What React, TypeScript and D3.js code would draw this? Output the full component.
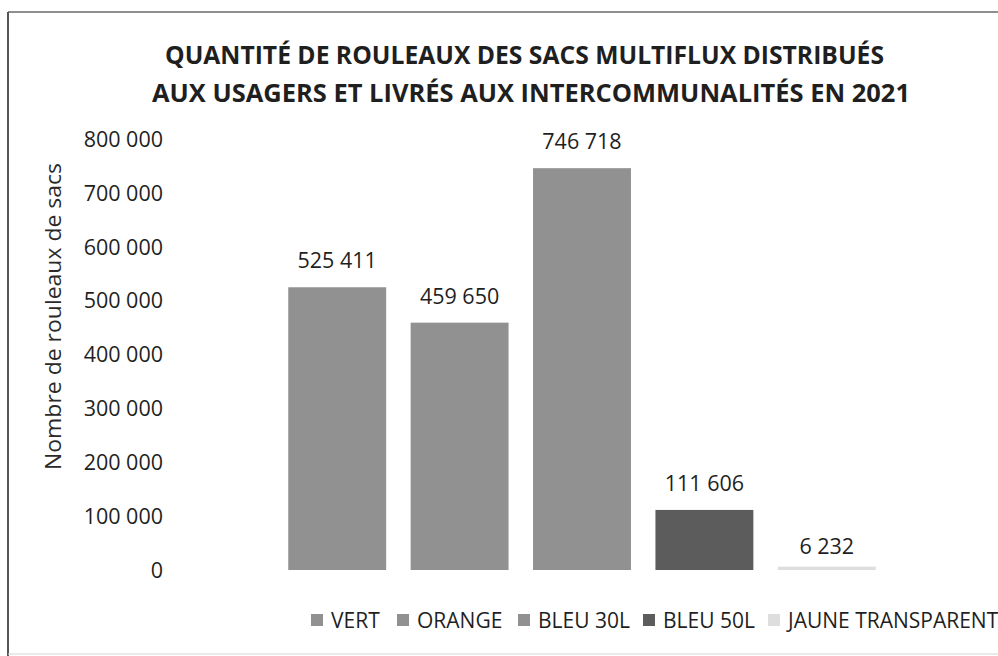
import React from "react";
import * as d3 from "d3";

const categories = ["VERT", "ORANGE", "BLEU 30L", "BLEU 50L", "JAUNE TRANSPARENT"];
const values = [525411, 459650, 746718, 111606, 6232];
const colors = ["#919191", "#919191", "#919191", "#5c5c5c", "#dedede"];
const yTicks = [0, 100000, 200000, 300000, 400000, 500000, 600000, 700000, 800000];
const titleLines = [
  "QUANTITÉ DE ROULEAUX DES SACS MULTIFLUX DISTRIBUÉS",
  "AUX USAGERS ET LIVRÉS AUX INTERCOMMUNALITÉS EN 2021",
];
const yTitle = "Nombre de rouleaux de sacs";

const W = 998;
const H = 656;
const FONT = "'Open Sans', 'Noto Sans', sans-serif";

const fmt = (v: number) => d3.format(",")(v).replace(/,/g, " ");

export default function App() {
  const y = d3.scaleLinear().domain([0, 800000]).range([570, 139.5]);
  const x = d3
    .scaleBand<string>()
    .domain(categories)
    .range([276, 888])
    .paddingInner(0.2)
    .paddingOuter(0.1);

  const legendX = [311, 397, 518, 643, 768];

  return (
    <svg
      width={W}
      height={H}
      style={{ position: "absolute", left: 0, top: 0, background: "#fff" }}
      fontFamily={FONT}
    >
      <rect x={0} y={0} width={W} height={H} fill="#fff" />
      {/* border */}
      <line x1={8} y1={12} x2={W} y2={12} stroke="#6a6a6a" strokeWidth={1.6} />
      <line x1={8} y1={12} x2={8} y2={H} stroke="#555" strokeWidth={2} />
      <line x1={8} y1={654} x2={W} y2={654} stroke="#d4d4d4" strokeWidth={1} />

      {/* title */}
      <text
        x={524.5}
        y={64}
        textAnchor="middle"
        fontSize={25}
        fontWeight="bold"
        fill="#1f1f1f"
        textLength={719}
        lengthAdjust="spacingAndGlyphs"
      >
        {titleLines[0]}
      </text>
      <text
        x={531}
        y={102}
        textAnchor="middle"
        fontSize={25}
        fontWeight="bold"
        fill="#1f1f1f"
        textLength={758}
        lengthAdjust="spacingAndGlyphs"
      >
        {titleLines[1]}
      </text>

      {/* y axis title */}
      <text
        transform={`translate(61,316.5) rotate(-90)`}
        textAnchor="middle"
        fontSize={21}
        fill="#2a2a2a"
        textLength={307}
        lengthAdjust="spacingAndGlyphs"
      >
        {yTitle}
      </text>

      {/* y ticks */}
      {yTicks.map((t) => (
        <text
          key={t}
          x={163}
          y={y(t)}
          dy="0.35em"
          textAnchor="end"
          fontSize={21.5}
          fill="#1f1f1f"
        >
          {fmt(t)}
        </text>
      ))}

      {/* bars */}
      {categories.map((c, i) => (
        <g key={c}>
          <rect
            x={x(c)}
            y={y(values[i])}
            width={x.bandwidth()}
            height={Math.max(y(0) - y(values[i]), 2)}
            fill={colors[i]}
          />
          <text
            x={(x(c) as number) + x.bandwidth() / 2}
            y={y(values[i]) - (i === 4 ? 13 : 19)}
            textAnchor="middle"
            fontSize={21.5}
            fill="#1f1f1f"
          >
            {fmt(values[i])}
          </text>
        </g>
      ))}

      {/* legend */}
      {categories.map((c, i) => (
        <g key={"l" + c}>
          <rect x={legendX[i]} y={614} width={12} height={12} fill={colors[i]} />
          <text x={legendX[i] + 20} y={628} fontSize={21} fill="#1f1f1f">
            {c}
          </text>
        </g>
      ))}
    </svg>
  );
}
